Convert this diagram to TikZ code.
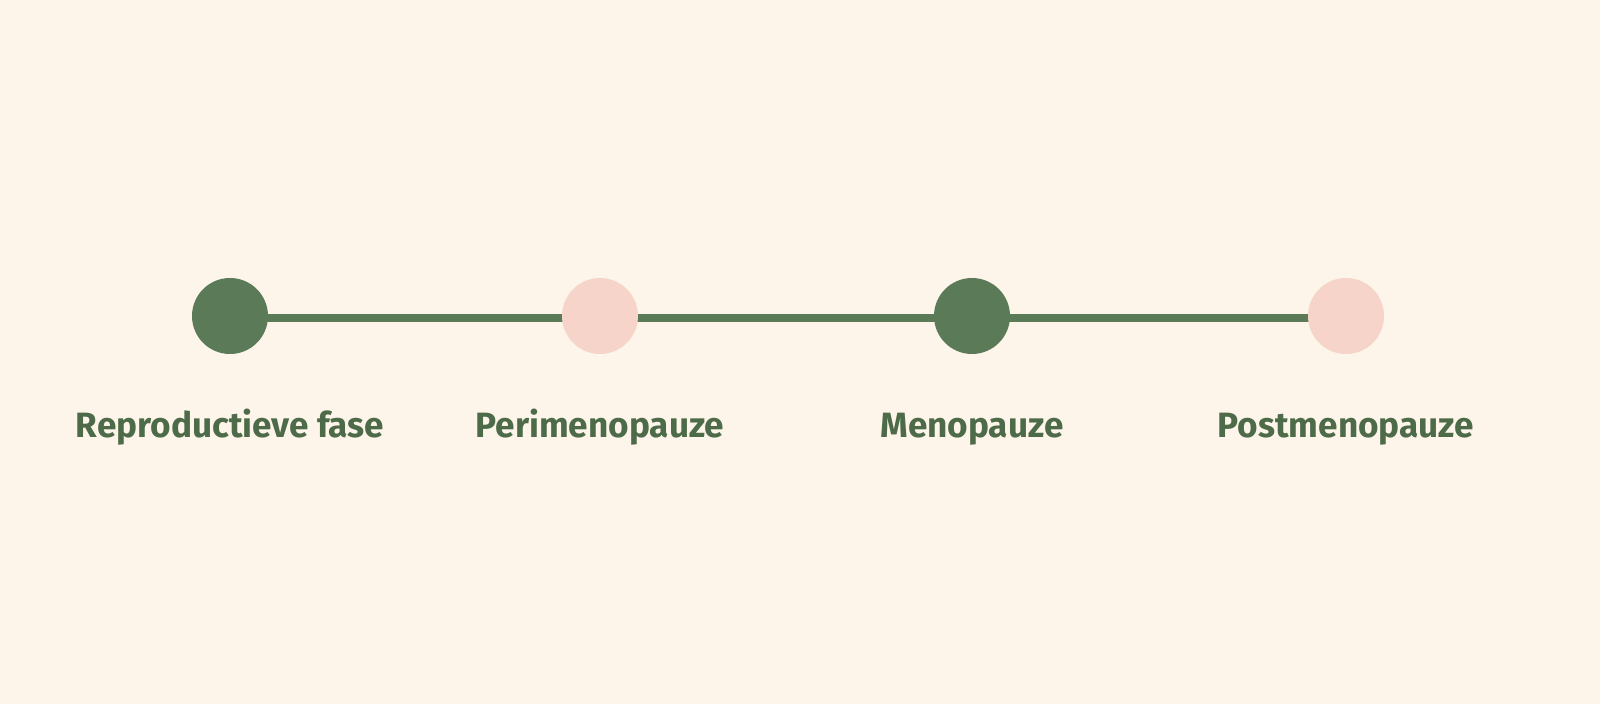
\documentclass[tikz,border=0pt]{standalone}
\usepackage{fontspec}
\setmainfont{Fira Sans}
\usetikzlibrary{positioning,backgrounds}
\definecolor{paper}{HTML}{FDF5E9}
\definecolor{leaf}{HTML}{5B7A58}
\definecolor{blush}{HTML}{F7D4C9}
\definecolor{ink}{HTML}{4D6B49}
\tikzset{
  phase/.style={circle, minimum size=1.9cm, inner sep=0pt},
  darkphase/.style={phase, fill=leaf},
  lightphase/.style={phase, fill=blush},
  phaselabel/.style={text=ink, font=\bfseries\fontsize{25}{30}\selectfont,
    text height=0.62cm, text depth=0.18cm, inner sep=0pt, below=1.45cm of #1}
}
\begin{document}
\begin{tikzpicture}[x=0.025cm, y=0.025cm]
		%%%%% START %%%%%
		
		\node[darkphase] (repro) at (230, 388) {};
		\node[lightphase] (peri) at (600, 388) {};
		\node[darkphase] (meno) at (972, 388) {};
		\node[lightphase] (post) at (1346, 388) {};
		
		\begin{scope}[on background layer]
		\fill[paper] (0, 0) rectangle (1600, 704);
		\draw[leaf, line width=0.2cm] ([yshift=-1.5pt]repro.center) -- ([yshift=-1.5pt]peri.center);
		\draw[leaf, line width=0.2cm] ([yshift=-1.5pt]peri.center) -- ([yshift=-1.5pt]meno.center);
		\draw[leaf, line width=0.2cm] ([yshift=-1.5pt]meno.center) -- ([yshift=-1.5pt]post.center);
		\end{scope}
		
		\node[phaselabel=repro] (reprotext) {Reproductieve fase};
		\node[phaselabel=peri] (peritext) {Perimenopauze};
		\node[phaselabel=meno] (menotext) {Menopauze};
		\node[phaselabel=post] (posttext) {Postmenopauze};
		
		%%%%% END %%%%%
	\end{tikzpicture}
\end{document}
